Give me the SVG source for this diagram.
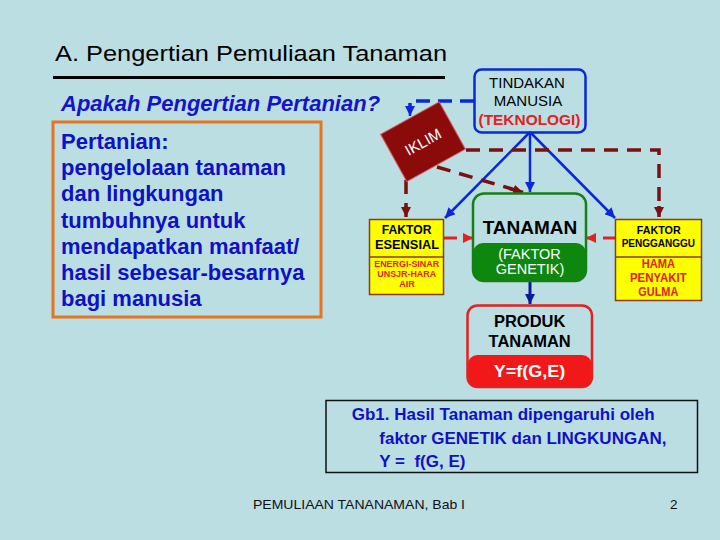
<svg xmlns="http://www.w3.org/2000/svg" width="720" height="540" viewBox="0 0 720 540">
<defs>
<style>
.sans{font-family:"Liberation Sans",Arial,sans-serif}
.title{font-size:22px;fill:#000}
.q{font-size:22px;font-weight:bold;font-style:italic;fill:#1414C8}
.body{font-size:22px;font-weight:bold;fill:#1010C4}
.cap{font-size:17px;font-weight:bold;fill:#1010C4}
.foot{font-size:13.5px;fill:#111}
.bl{fill:none;stroke:#0A28D8;stroke-width:2.5}
.bld{fill:none;stroke:#0A28D8;stroke-width:3.5;stroke-dasharray:14 8}
.dr{fill:none;stroke:#7A1010;stroke-width:3.5;stroke-dasharray:14 9}
.rd{fill:none;stroke:#E42020;stroke-width:3}
.nv{fill:none;stroke:#0A1A9A;stroke-width:3}
.yb{fill:#FFFF00;stroke:#8B3A1A;stroke-width:1.5}
.mid{text-anchor:middle}
.k{fill:#000;font-weight:bold}
.r{fill:#E42020;font-weight:bold}
.w{fill:#fff}
</style>
<marker id="ab" viewBox="0 0 10 10" refX="10" refY="5" markerWidth="10" markerHeight="10" markerUnits="userSpaceOnUse" orient="auto"><path d="M0,0 L10,5 L0,10 z" fill="#0A28D8"/></marker>
<marker id="ar" viewBox="0 0 10 10" refX="10" refY="5" markerWidth="10" markerHeight="10" markerUnits="userSpaceOnUse" orient="auto"><path d="M0,0 L10,5 L0,10 z" fill="#7A1010"/></marker>
<marker id="arr" viewBox="0 0 10 10" refX="10" refY="5" markerWidth="10" markerHeight="10" markerUnits="userSpaceOnUse" orient="auto"><path d="M0,0 L10,5 L0,10 z" fill="#E42020"/></marker>
<marker id="an" viewBox="0 0 10 10" refX="10" refY="5" markerWidth="10" markerHeight="10" markerUnits="userSpaceOnUse" orient="auto"><path d="M0,0 L10,5 L0,10 z" fill="#0A1A9A"/></marker>
</defs>
<rect x="0" y="0" width="720" height="540" fill="#BBDEE3"/>

<g id="header">
<text class="sans title" x="55" y="60.5" textLength="392" lengthAdjust="spacingAndGlyphs">A. Pengertian Pemuliaan Tanaman</text>
<line x1="53" y1="77.5" x2="445" y2="77.5" stroke="#000" stroke-width="3"/>
<text class="sans q" x="61" y="111">Apakah Pengertian Pertanian?</text>
</g>

<g id="definition">
<rect x="53" y="122" width="268" height="195" fill="none" stroke="#E8751E" stroke-width="3"/>
<text class="sans body" x="61" y="149">Pertanian:</text>
<text class="sans body" x="61" y="175.2">pengelolaan tanaman</text>
<text class="sans body" x="61" y="201.4">dan lingkungan</text>
<text class="sans body" x="61" y="227.6">tumbuhnya untuk</text>
<text class="sans body" x="61" y="253.8">mendapatkan manfaat/</text>
<text class="sans body" x="61" y="280">hasil sebesar-besarnya</text>
<text class="sans body" x="61" y="306.2">bagi manusia</text>
</g>

<g id="connectors">
<path class="bld" d="M474,101 H410 V108"/>
<path class="bl" d="M410,106 V116" marker-end="url(#ab)"/>
<path class="bl" d="M530,132 V192" marker-end="url(#ab)"/>
<path class="bl" d="M530,132 L445,218" marker-end="url(#ab)"/>
<path class="bl" d="M530,132 L615,218" marker-end="url(#ab)"/>
<path class="dr" d="M466,150 H659 V208"/>
<path d="M659,206 V217" fill="none" stroke="#7A1010" stroke-width="3.5" marker-end="url(#ar)"/>
<path class="dr" d="M437,167 L512,189"/>
<path d="M510,188.5 L523,192.5" fill="none" stroke="#7A1010" stroke-width="3.5" marker-end="url(#ar)"/>
<path class="dr" d="M406,180 V208"/>
<path d="M406,206 V217" fill="none" stroke="#7A1010" stroke-width="3.5" marker-end="url(#ar)"/>
<path class="rd" d="M443,238 H457"/>
<path class="rd" d="M464,238 H473" marker-end="url(#arr)"/>
<path class="rd" d="M616,238 H603"/>
<path class="rd" d="M595,238 H586" marker-end="url(#arr)"/>
<path class="nv" d="M530,281 V304" marker-end="url(#an)"/>
</g>

<g id="tindakan">
<rect x="474.5" y="69.5" width="111" height="63" rx="7" fill="none" stroke="#0A28D8" stroke-width="2.5"/>
<text class="sans mid" x="527" y="87.5" font-size="15">TINDAKAN</text>
<text class="sans mid" x="528" y="106" font-size="15">MANUSIA</text>
<text class="sans mid r" x="529.5" y="125" font-size="14" textLength="102" lengthAdjust="spacingAndGlyphs">(TEKNOLOGI)</text>
</g>

<g id="iklim" transform="translate(423,141.7) rotate(-29)">
<rect x="-33.5" y="-27" width="67" height="54" fill="#8B0B0B" stroke="#D06060" stroke-width="1"/>
<text class="sans mid w" x="0" y="5.5" font-size="15">IKLIM</text>
</g>

<g id="faktor-esensial">
<rect class="yb" x="369.5" y="219.5" width="74" height="75"/>
<line x1="369.5" y1="257" x2="443.5" y2="257" stroke="#8B3A1A" stroke-width="1.5"/>
<text class="sans mid k" x="406.7" y="234.3" font-size="13" textLength="50" lengthAdjust="spacingAndGlyphs">FAKTOR</text>
<text class="sans mid k" x="407" y="249.3" font-size="13" textLength="64" lengthAdjust="spacingAndGlyphs">ESENSIAL</text>
<text class="sans mid r" x="406.7" y="267" font-size="9.5" textLength="65" lengthAdjust="spacingAndGlyphs">ENERGI-SINAR</text>
<text class="sans mid r" x="406.7" y="277" font-size="9.5" textLength="58.7" lengthAdjust="spacingAndGlyphs">UNSJR-HARA</text>
<text class="sans mid r" x="407" y="287" font-size="9.5" textLength="15.7" lengthAdjust="spacingAndGlyphs">AIR</text>
</g>

<g id="tanaman">
<path d="M473,253 a10,10 0 0 1 10,-10 H576 a10,10 0 0 1 10,10 V270 a11,11 0 0 1 -11,11 H484 a11,11 0 0 1 -11,-11 Z" fill="#0E870E"/>
<rect x="473" y="193.5" width="113" height="87.5" rx="11" fill="none" stroke="#168016" stroke-width="2.5"/>
<text class="sans mid k" x="530" y="234.3" font-size="18" textLength="94.7" lengthAdjust="spacingAndGlyphs">TANAMAN</text>
<text class="sans mid w" x="529.5" y="258.5" font-size="14.5">(FAKTOR</text>
<text class="sans mid w" x="530" y="273.5" font-size="14.5">GENETIK)</text>
</g>

<g id="faktor-pengganggu">
<rect class="yb" x="615.5" y="219.5" width="86" height="81"/>
<line x1="615.5" y1="257" x2="701.5" y2="257" stroke="#8B3A1A" stroke-width="1.5"/>
<text class="sans mid k" x="658.7" y="234.3" font-size="11.5" textLength="44" lengthAdjust="spacingAndGlyphs">FAKTOR</text>
<text class="sans mid k" x="658.3" y="247" font-size="11.5" textLength="73.3" lengthAdjust="spacingAndGlyphs">PENGGANGGU</text>
<text class="sans mid r" x="658.3" y="268" font-size="12" textLength="33.3" lengthAdjust="spacingAndGlyphs">HAMA</text>
<text class="sans mid r" x="658.3" y="282" font-size="12" textLength="56.7" lengthAdjust="spacingAndGlyphs">PENYAKIT</text>
<text class="sans mid r" x="658.3" y="295.5" font-size="12" textLength="40" lengthAdjust="spacingAndGlyphs">GULMA</text>
</g>

<g id="produk">
<path d="M467.5,365 a10,10 0 0 1 10,-10 H582 a10,10 0 0 1 10,10 V377 a10,10 0 0 1 -10,10 H477.5 a10,10 0 0 1 -10,-10 Z" fill="#F01818"/>
<rect x="467.5" y="305.5" width="124.5" height="81.5" rx="10" fill="none" stroke="#E42020" stroke-width="2.5"/>
<text class="sans mid k" x="529.7" y="327" font-size="16.5">PRODUK</text>
<text class="sans mid k" x="529.7" y="347" font-size="16.5">TANAMAN</text>
<text class="sans mid w" x="529.5" y="377" font-size="16" font-weight="bold" textLength="71.7" lengthAdjust="spacingAndGlyphs">Y=f(G,E)</text>
</g>

<g id="caption">
<rect x="326" y="400.5" width="371.5" height="72" fill="none" stroke="#111" stroke-width="1.5"/>
<text class="sans cap" x="351.7" y="420">Gb1. Hasil Tanaman dipengaruhi oleh</text>
<text class="sans cap" x="379.3" y="444">faktor GENETIK dan LINGKUNGAN,</text>
<text class="sans cap" x="379.3" y="467" xml:space="preserve">Y =  f(G, E)</text>
</g>

<g id="footer">
<text class="sans foot" x="253" y="509" textLength="212" lengthAdjust="spacingAndGlyphs">PEMULIAAN TANANAMAN, Bab I</text>
<text class="sans foot" x="670" y="509">2</text>
</g>
</svg>
